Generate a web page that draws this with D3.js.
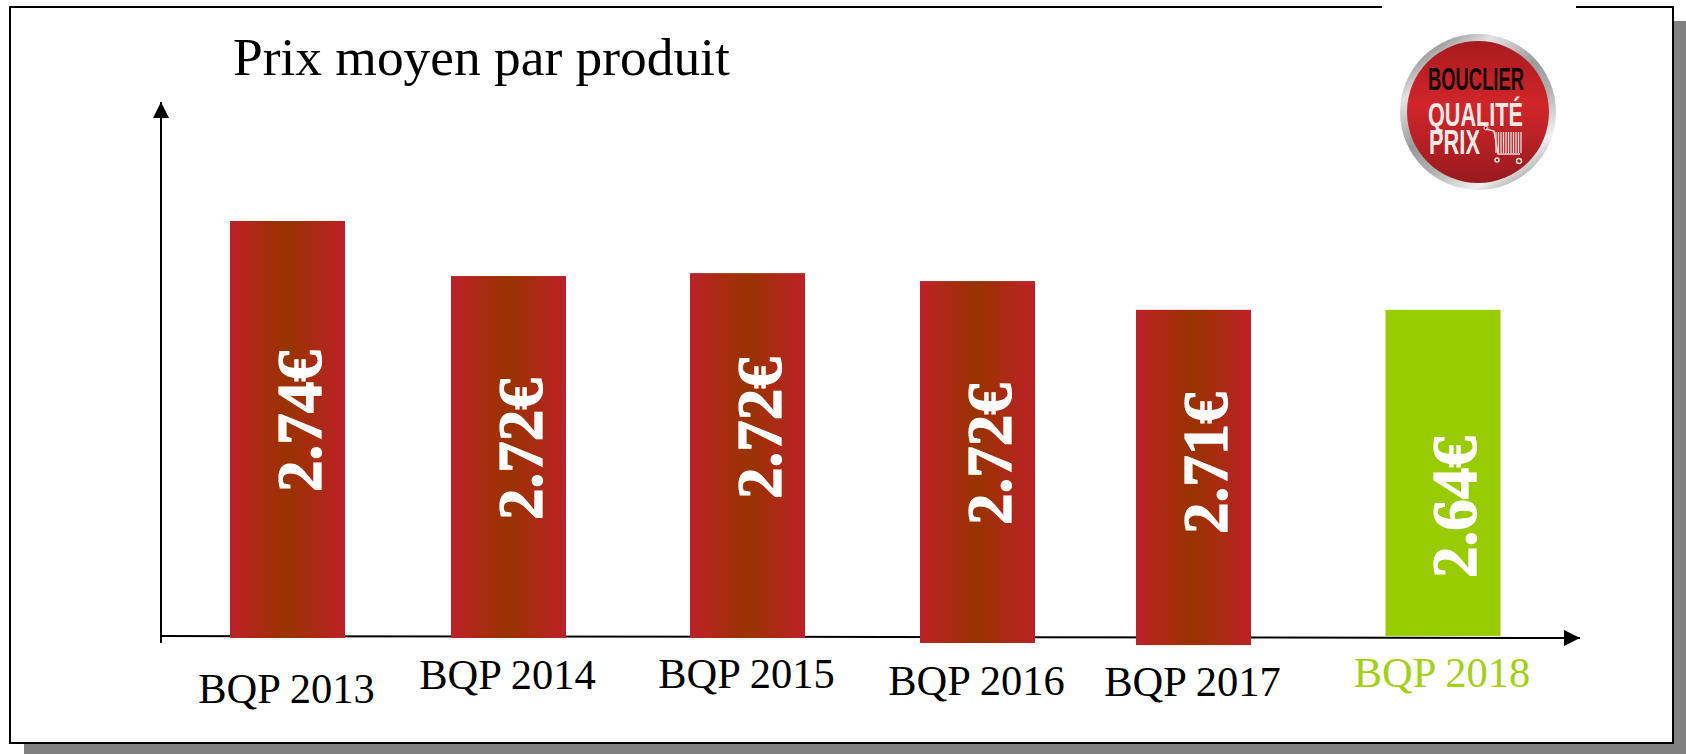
<!DOCTYPE html>
<html lang="fr">
<head>
    <meta charset="UTF-8">
    <title>Prix moyen par produit</title>
    <script src="https://cdnjs.cloudflare.com/ajax/libs/d3/7.8.5/d3.min.js"></script>
    <style>
        html, body { margin: 0; padding: 0; background: #fff; overflow: hidden; }
        svg { display: block; }
        text { font-family: "Liberation Serif", "Times New Roman", serif; }
        .logo text { font-family: "Liberation Sans", Arial, sans-serif; font-weight: bold; }
    </style>
</head>
<body>
<svg width="1686" height="754"></svg>

<script>
    const chartTitle = "Prix moyen par produit";
    const categories = ["BQP 2013", "BQP 2014", "BQP 2015", "BQP 2016", "BQP 2017", "BQP 2018"];
    const priceLabels = ["2.74€", "2.72€", "2.72€", "2.72€", "2.71€", "2.64€"];
    // drawn bar ends, tallest bar = 100 (the picture has no value axis)
    const barTops = [100, 86.8, 87.5, 85.6, 78.7, 78.7];
    const barBottoms = [0, 0, 0, -1.2, -1.7, 0.5];

    const svg = d3.select("svg");
    const defs = svg.append("defs");

    const x = d3.scaleOrdinal().domain(categories).range([287.5, 508.5, 747.5, 977.5, 1193.5, 1443]);
    const y = d3.scaleLinear().domain([0, 100]).range([638, 221]);
    const priceY = d3.scaleOrdinal().domain(categories).range([421, 449, 428, 454, 463, 507]);
    const nameY = d3.scaleOrdinal().domain(categories).range([703, 689, 688, 695, 696, 687]);
    const barWidth = 115;
    const green = "#99cc00";

    const barFill = defs.append("linearGradient").attr("id", "barFill");
    barFill.append("stop").attr("offset", "0%").attr("stop-color", "#bd2128");
    barFill.append("stop").attr("offset", "50%").attr("stop-color", "#993300");
    barFill.append("stop").attr("offset", "100%").attr("stop-color", "#bd2128");

    const arrow = defs.append("marker").attr("id", "arrow")
        .attr("viewBox", "0 0 16 16").attr("refX", 16).attr("refY", 8)
        .attr("markerUnits", "userSpaceOnUse")
        .attr("markerWidth", 16).attr("markerHeight", 16).attr("orient", "auto");
    arrow.append("path").attr("d", "M0,0L16,8L0,16Z").attr("fill", "#000");

    // frame + drop shadow
    svg.append("rect").attr("x", 24).attr("y", 21).attr("width", 1662).attr("height", 733).attr("fill", "#808080");
    svg.append("rect").attr("x", 10).attr("y", 7).attr("width", 1663).attr("height", 736)
        .attr("fill", "#fff").attr("stroke", "#000").attr("stroke-width", 2);

    svg.append("text").attr("x", 233).attr("y", 75)
        .attr("font-size", 53.4).attr("fill", "#000").text(chartTitle);

    // axes, slightly sloped like in the original
    svg.append("line").attr("x1", 161).attr("y1", 643).attr("x2", 161).attr("y2", 102)
        .attr("stroke", "#000").attr("stroke-width", 2).attr("marker-end", "url(#arrow)");
    svg.append("line").attr("x1", 161).attr("y1", 636).attr("x2", 1580).attr("y2", 638)
        .attr("stroke", "#000").attr("stroke-width", 2).attr("marker-end", "url(#arrow)");

    svg.selectAll(".bar")
        .data(categories)
        .enter()
        .append("rect")
        .attr("class", "bar")
        .attr("x", d => x(d) - barWidth / 2)
        .attr("y", (d, i) => y(barTops[i]))
        .attr("width", barWidth)
        .attr("height", (d, i) => y(barBottoms[i]) - y(barTops[i]))
        .attr("fill", (d, i) => i === 5 ? green : "url(#barFill)");

    // thin white stroke: the original's bold is heavier than Liberation's
    svg.selectAll(".price")
        .data(categories)
        .enter()
        .append("text")
        .attr("class", "price")
        .attr("transform", d => `translate(${x(d) + 33},${priceY(d)}) rotate(-90)`)
        .attr("text-anchor", "middle")
        .attr("font-size", 63)
        .attr("font-weight", "bold")
        .attr("fill", "#fff")
        .attr("stroke", "#fff")
        .attr("stroke-width", 1.2)
        .text((d, i) => priceLabels[i]);

    svg.selectAll(".name")
        .data(categories)
        .enter()
        .append("text")
        .attr("class", "name")
        .attr("x", d => x(d) - 1)
        .attr("y", d => nameY(d))
        .attr("text-anchor", "middle")
        .attr("font-size", 42.5)
        .attr("fill", (d, i) => i === 5 ? "#a3d016" : "#000")
        .text(d => d);

    // logo, top right. white box bites into the frame as the pasted image does
    svg.append("rect").attr("x", 1382).attr("y", 5).attr("width", 194).attr("height", 4).attr("fill", "#fff");

    const ringFill = defs.append("linearGradient").attr("id", "ringFill")
        .attr("x1", "15%").attr("y1", "0%").attr("x2", "85%").attr("y2", "100%");
    [["0%", "#6e6e6e"], ["22%", "#e4e4e4"], ["45%", "#9a9a9a"], ["62%", "#b0b0b0"], ["82%", "#f0f0f0"], ["100%", "#8a8a8a"]]
        .forEach(s => ringFill.append("stop").attr("offset", s[0]).attr("stop-color", s[1]));

    const discFill = defs.append("linearGradient").attr("id", "discFill").attr("x2", "0%").attr("y2", "100%");
    [["0%", "#a81a1e"], ["45%", "#d0262b"], ["100%", "#981a1e"]]
        .forEach(s => discFill.append("stop").attr("offset", s[0]).attr("stop-color", s[1]));

    const logo = svg.append("g").attr("class", "logo");
    logo.append("circle").attr("cx", 1478).attr("cy", 112).attr("r", 78).attr("fill", "url(#ringFill)");
    logo.append("circle").attr("cx", 1478).attr("cy", 112).attr("r", 71).attr("fill", "url(#discFill)");

    const logoText = (txt, tx, ty, size, len, fill) => logo.append("text")
        .attr("x", tx).attr("y", ty)
        .attr("font-size", size).attr("fill", fill)
        .attr("textLength", len).attr("lengthAdjust", "spacingAndGlyphs")
        .text(txt);
    logoText("BOUCLIER", 1428, 90, 31, 96, "#120808");
    logoText("QUALITÉ", 1428, 126, 34, 95, "#f6e9e6");
    logoText("PRIX", 1429, 154, 35, 51, "#f6e9e6");

    // little trolley
    const cart = logo.append("g").attr("stroke", "#f3dcd8").attr("fill", "none");
    cart.append("path").attr("stroke-width", 1.5).attr("d", "M1486,129L1494,131L1498,154L1520,154");
    cart.append("circle").attr("cx", 1486).attr("cy", 128).attr("r", 2).attr("stroke-width", 1);
    cart.append("circle").attr("cx", 1497).attr("cy", 160).attr("r", 2).attr("stroke-width", 1.5);
    cart.append("circle").attr("cx", 1519).attr("cy", 161).attr("r", 2.5).attr("stroke-width", 1.5);
    cart.selectAll(".code")
        .data(d3.range(1496, 1522, 2.5))
        .enter()
        .append("line")
        .attr("class", "code")
        .attr("x1", d => d).attr("x2", d => d)
        .attr("y1", 132).attr("y2", 153)
        .attr("stroke-width", 1.3);
</script>
</body>
</html>
